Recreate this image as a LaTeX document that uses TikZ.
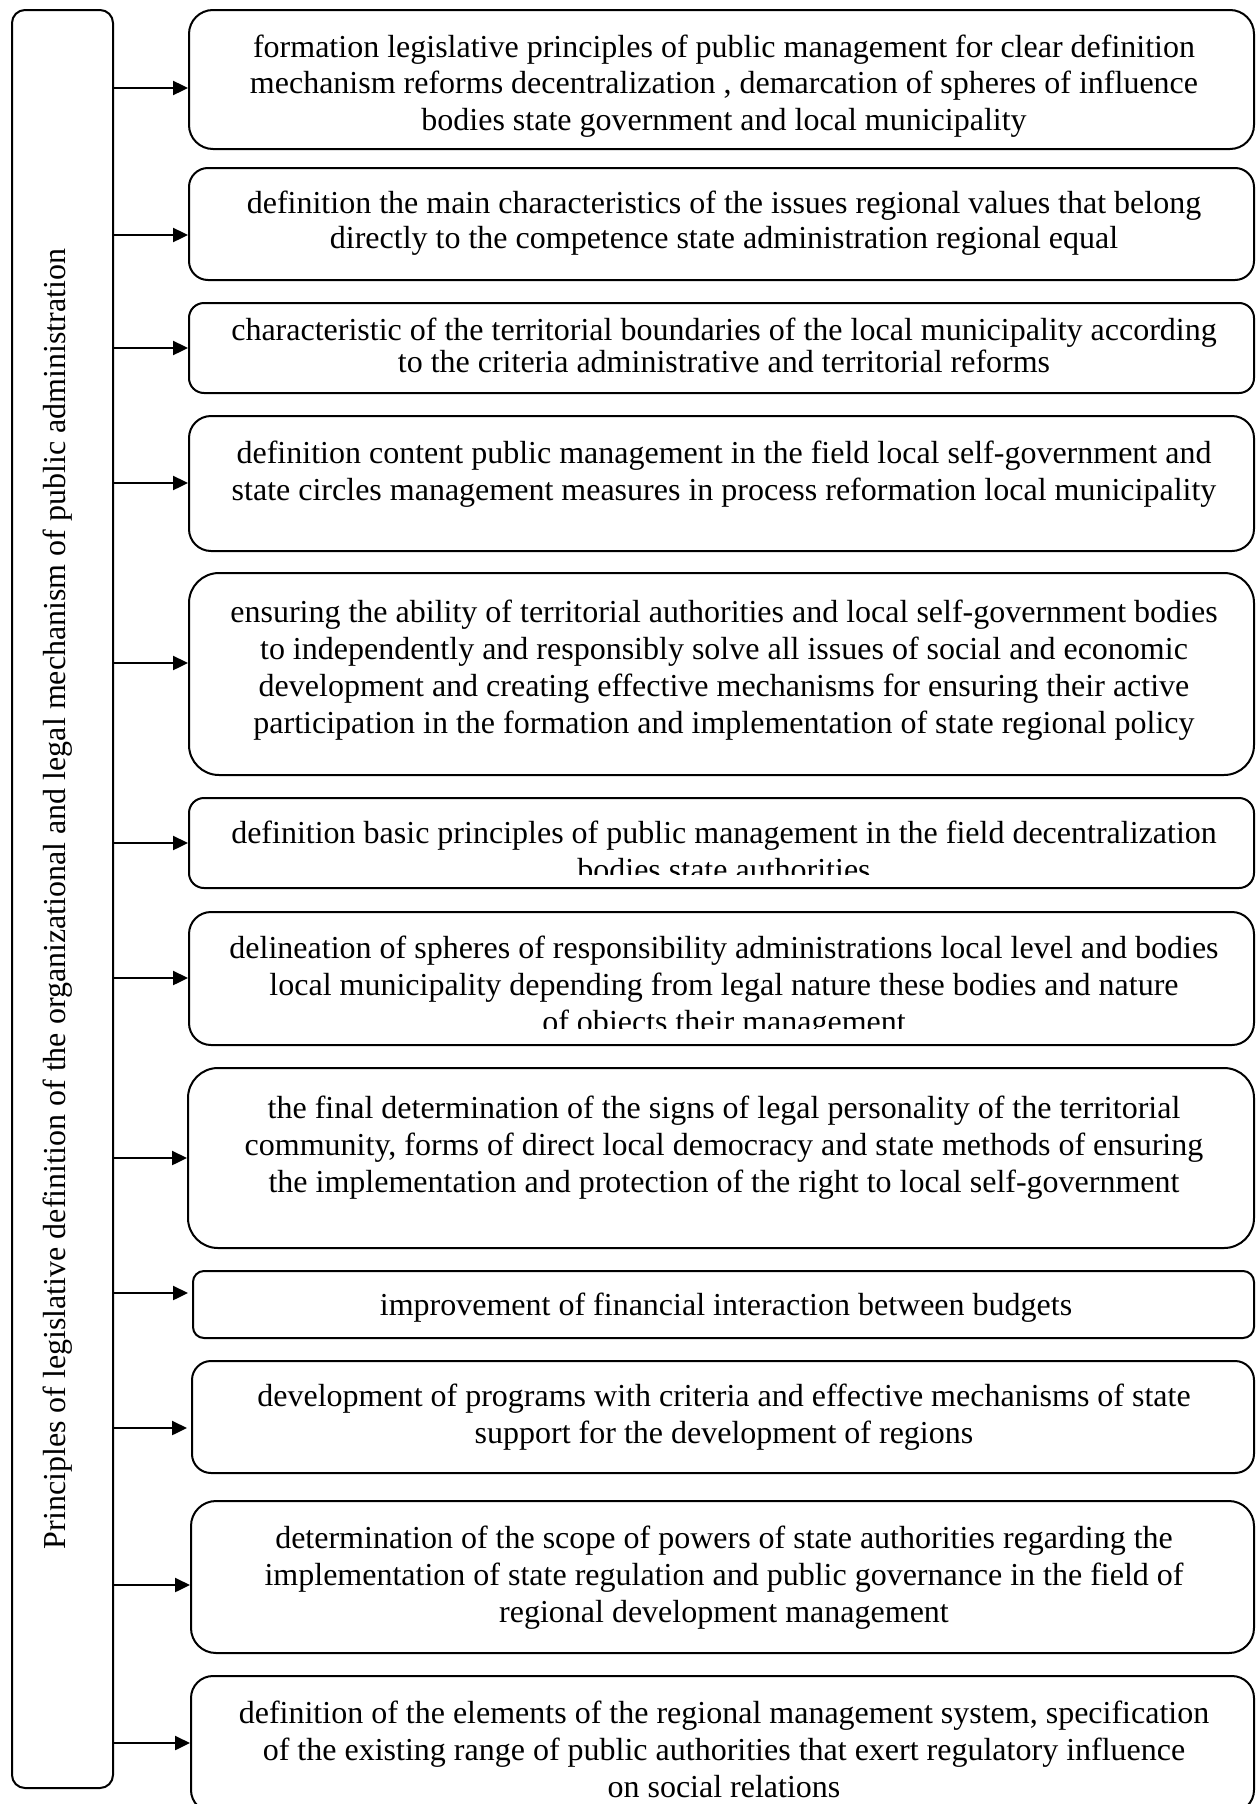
\documentclass[tikz,border=0pt]{standalone}
\usepackage{fontspec}
\setmainfont{Liberation Serif}
\usetikzlibrary{arrows.meta}
\begin{document}
\begin{tikzpicture}[x=0.5pt,y=-0.5pt,
  box/.style={draw=black, line width=1pt, inner sep=0pt, minimum width=532.5pt},
  txt/.style={align=center, inner sep=0pt, anchor=base, font=\fontsize{16}{18.35}\selectfont},
  arr/.style={line width=1.2pt, -{Triangle[length=7.5pt,width=7pt]}}]
\useasboundingbox (0,0) rectangle (1257,1804);
% left box
\node[box, minimum width=50.5pt, minimum height=889pt, rounded corners=6.5pt] (L) at (62.5,899) {};
\node[txt, rotate=90] (Lt) at (65,899) {Principles of legislative definition of the organizational and legal mechanism of public administration};
% right boxes
\node[box, minimum height=69.5pt, rounded corners=12pt] (b1) at (721.5,79.5) {};
\node[box, minimum height=56pt, rounded corners=9.5pt] (b2) at (721.5,224) {};
\node[box, minimum height=45pt, rounded corners=7.5pt] (b3) at (721.5,348) {};
\node[box, minimum height=67.5pt, rounded corners=11pt] (b4) at (721.5,483.5) {};
\node[box, minimum height=101pt, rounded corners=15pt] (b5) at (721.5,674) {};
\node[box, minimum height=45pt, rounded corners=7.5pt] (b6) at (721.5,843) {};
\node[box, minimum height=66.5pt, rounded corners=11pt] (b7) at (721.5,978.5) {};
\node[box, minimum width=533pt, minimum height=90pt, rounded corners=15pt] (b8) at (721,1158) {};
\node[box, minimum width=530.5pt, minimum height=33.5pt, rounded corners=5.5pt] (b9) at (723.5,1304.5) {};
\node[box, minimum width=531pt, minimum height=56pt, rounded corners=9.5pt] (b10) at (723,1417) {};
\node[box, minimum width=531.5pt, minimum height=76pt, rounded corners=12.5pt] (b11) at (722.5,1577) {};
\node[box, minimum width=531.5pt, minimum height=68pt, rounded corners=11pt] (b12) at (722.5,1744) {};
% texts (anchored at the baseline of the last line)
\node[txt] (t1) at (724,130.5) {formation legislative principles of public management for clear definition\\mechanism reforms decentralization , demarcation of spheres of influence\\bodies state government and local municipality};
\node[txt, font=\fontsize{16}{17.5}\selectfont] (t2) at (724,248) {definition the main characteristics of the issues regional values that belong\\directly to the competence state administration regional equal};
\node[txt, font=\fontsize{16}{16}\selectfont] (t3) at (724,372) {characteristic of the territorial boundaries of the local municipality according\\to the criteria administrative and territorial reforms};
\node[txt] (t4) at (724,500) {definition content public management in the field local self-government and\\state circles management measures in process reformation local municipality};
\node[txt] (t5) at (724,733) {ensuring the ability of territorial authorities and local self-government bodies\\to independently and responsibly solve all issues of social and economic\\development and creating effective mechanisms for ensuring their active\\participation in the formation and implementation of state regional policy};
\begin{scope}
\clip (150,798) rectangle (1257,874);
\node[txt] (t6) at (724,880) {definition basic principles of public management in the field decentralization\\bodies state authorities};
\end{scope}
\begin{scope}
\clip (150,912) rectangle (1257,1028);
\node[txt] (t7) at (724,1032) {delineation of spheres of responsibility administrations local level and bodies\\local municipality depending from legal nature these bodies and nature\\of objects their management};
\end{scope}
\node[txt] (t8) at (724,1192) {the final determination of the signs of legal personality of the territorial\\community, forms of direct local democracy and state methods of ensuring\\the implementation and protection of the right to local self-government};
\node[txt] (t9) at (726,1315) {improvement of financial interaction between budgets};
\node[txt] (t10) at (724,1443) {development of programs with criteria and effective mechanisms of state\\support for the development of regions};
\node[txt] (t11) at (724,1622) {determination of the scope of powers of state authorities regarding the\\implementation of state regulation and public governance in the field of\\regional development management};
\node[txt] (t12) at (724,1797) {definition of the elements of the regional management system, specification\\of the existing range of public authorities that exert regulatory influence\\on social relations};
% arrow levels
\coordinate (a1) at (0,88);
\coordinate (a2) at (0,235);
\coordinate (a3) at (0,348);
\coordinate (a4) at (0,483);
\coordinate (a5) at (0,663);
\coordinate (a6) at (0,843);
\coordinate (a7) at (0,978);
\coordinate (a8) at (0,1158);
\coordinate (a9) at (0,1293);
\coordinate (a10) at (0,1428);
\coordinate (a11) at (0,1585);
\coordinate (a12) at (0,1743);
\draw[arr] (L.east |- a1) -- (b1.west |- a1);
\draw[arr] (L.east |- a2) -- (b2.west |- a2);
\draw[arr] (L.east |- a3) -- (b3.west |- a3);
\draw[arr] (L.east |- a4) -- (b4.west |- a4);
\draw[arr] (L.east |- a5) -- (b5.west |- a5);
\draw[arr] (L.east |- a6) -- (b6.west |- a6);
\draw[arr] (L.east |- a7) -- (b7.west |- a7);
\draw[arr] (L.east |- a8) -- (b8.west |- a8);
\draw[arr, shorten >=2pt] (L.east |- a9) -- (b9.west |- a9);
\draw[arr, shorten >=2pt] (L.east |- a10) -- (b10.west |- a10);
\draw[arr] (L.east |- a11) -- (b11.west |- a11);
\draw[arr] (L.east |- a12) -- (b12.west |- a12);
\end{tikzpicture}
\end{document}
